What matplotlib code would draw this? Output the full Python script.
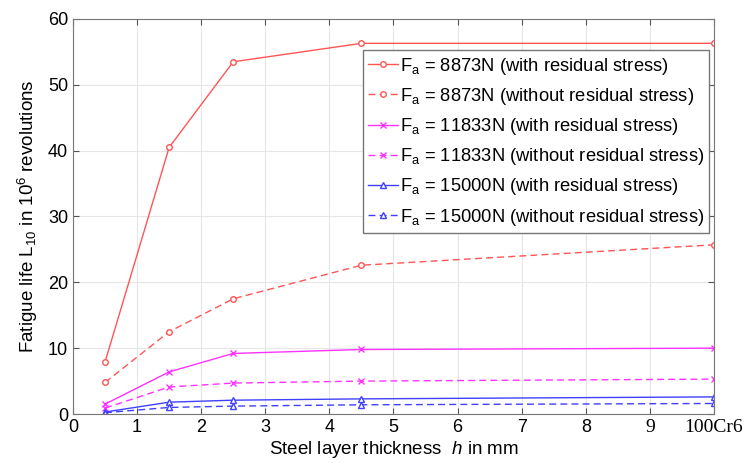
import numpy as np
import matplotlib.pyplot as plt

# thickness positions (10 = 100Cr6 reference)
h = [0.5, 1.5, 2.5, 4.5, 10]

red_with = [7.9, 40.5, 53.5, 56.3, 56.3]
red_without = [4.8, 12.5, 17.5, 22.6, 25.7]
mag_with = [1.5, 6.4, 9.2, 9.8, 10.0]
mag_without = [0.9, 4.1, 4.7, 5.0, 5.3]
blue_with = [0.3, 1.8, 2.1, 2.3, 2.6]
blue_without = [0.2, 1.0, 1.2, 1.4, 1.6]

xticks = list(range(11))
xticklabels = [str(i) for i in range(10)] + ["100Cr6"]

plt.rcParams.update({"font.family": ["Liberation Sans", "DejaVu Sans"],
                     "mathtext.fontset": "custom",
                     "mathtext.rm": "Liberation Sans",
                     "mathtext.it": "Liberation Sans:italic"})

fig = plt.figure(figsize=(7.51, 4.63), dpi=100)
ax = fig.add_axes([0.0972, 0.1058, 0.8535, 0.8532])

RED, MAG, BLUE = "#ff5555", "#ff33ff", "#4040ff"
series = [
    (red_with, RED, "-", "o", "8873N (with residual stress)"),
    (red_without, RED, "--", "o", "8873N (without residual stress)"),
    (mag_with, MAG, "-", "x", "11833N (with residual stress)"),
    (mag_without, MAG, "--", "x", "11833N (without residual stress)"),
    (blue_with, BLUE, "-", "^", "15000N (with residual stress)"),
    (blue_without, BLUE, "--", "^", "15000N (without residual stress)"),
]
for y, c, ls, mk, lab in series:
    ax.plot(h, y, color=c, ls=ls, lw=1.0, marker=mk, ms=4,
            mfc="white" if mk != "x" else c, mec=c, mew=1.0,
            dashes=(5, 3) if ls == "--" else (None, None),
            label=r"F$_\mathregular{a}$ = " + lab)

ax.set_xlim(0, 10)
ax.set_ylim(0, 60)
ax.set_xticks(xticks)
ax.set_xticklabels(xticklabels)
ax.set_yticks(range(0, 61, 10))
ax.tick_params(labelsize=13, direction="in", length=4, color="#555555",
               top=True, right=True)
# the last two x labels are set in a serif face in the original
for t in ax.get_xticklabels()[9:]:
    t.set_family(["Liberation Serif", "DejaVu Serif"])
    t.set_fontsize(14)
ax.grid(True, color="#e6e6e6", lw=0.8)
ax.set_axisbelow(True)
for s in ax.spines.values():
    s.set_color("#777777")

ax.set_xlabel(r"Steel layer thickness  $\mathit{h}$ in mm", fontsize=13.5, labelpad=2)
ax.set_ylabel(r"Fatigue life L$_\mathregular{10}$ in 10$^\mathregular{6}$ revolutions",
              fontsize=13.5, labelpad=6)

leg = ax.legend(loc="upper right", bbox_to_anchor=(0.993, 0.921), fontsize=13.2,
                fancybox=False, edgecolor="#777777", framealpha=1, numpoints=1,
                handlelength=1.6, handletextpad=0.1, labelspacing=0.5,
                borderpad=0.3, borderaxespad=0)

fig.savefig("out.png", dpi=100)
